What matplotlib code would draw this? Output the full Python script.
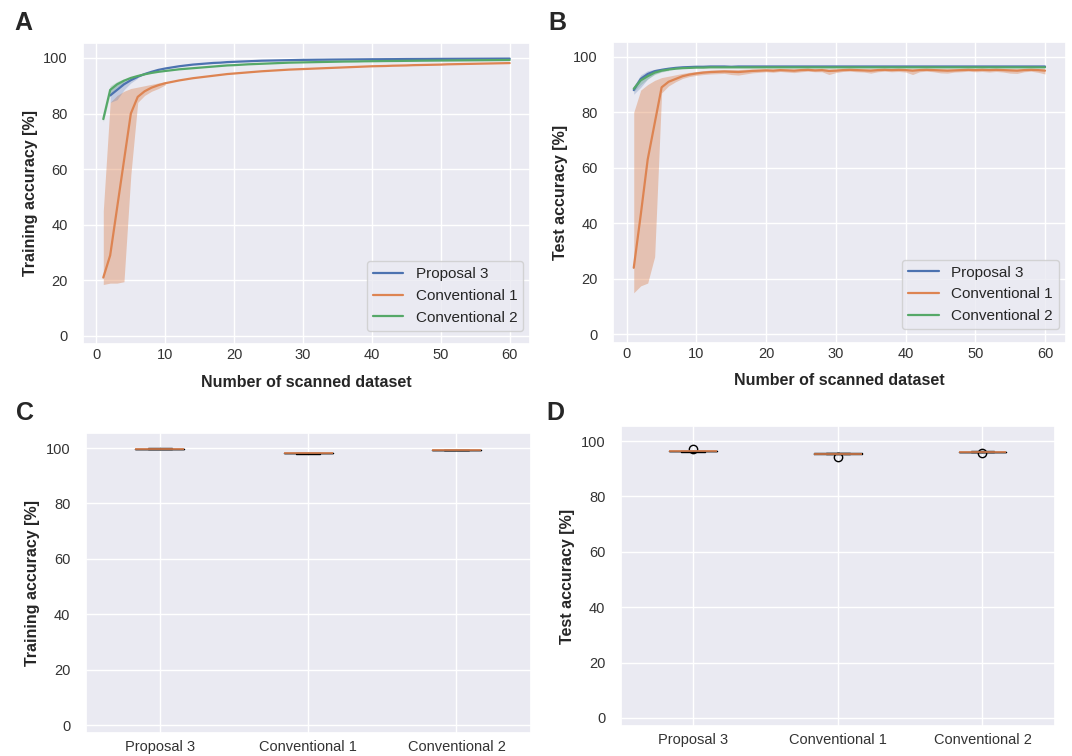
import matplotlib
matplotlib.use("Agg")
import matplotlib.pyplot as plt
import seaborn as sns

sns.set_theme(style="darkgrid")
plt.rcParams['font.family'] = ['Liberation Sans', 'DejaVu Sans']

# x axis: number of scanned dataset
x_all = list(range(1, 61))
x_from2 = list(range(2, 61))

# training accuracy (mean curves)
train_p3 = [86.5, 88.5, 90.5, 92.0, 93.2, 94.2, 95.0, 95.7, 96.2, 96.6,
            97.0, 97.3, 97.6, 97.8, 98.0, 98.2, 98.3, 98.5, 98.6, 98.7,
            98.8, 98.9, 99.0, 99.05, 99.1, 99.15, 99.2, 99.25, 99.3, 99.32,
            99.35, 99.37, 99.4, 99.42, 99.44, 99.46, 99.48, 99.5, 99.52, 99.53,
            99.55, 99.56, 99.58, 99.6, 99.61, 99.62, 99.63, 99.65, 99.66, 99.67,
            99.68, 99.69, 99.7, 99.71, 99.72, 99.73, 99.74, 99.75, 99.76]
train_c1 = [21.0, 29.0, 46.0, 63.0, 80.0, 86.0, 88.0, 89.3, 90.2, 90.9,
            91.4, 91.9, 92.3, 92.7, 93.0, 93.3, 93.6, 93.9, 94.2, 94.4,
            94.6, 94.8, 95.0, 95.2, 95.35, 95.5, 95.65, 95.8, 95.9, 96.0,
            96.1, 96.2, 96.3, 96.4, 96.5, 96.6, 96.7, 96.8, 96.9, 97.0,
            97.05, 97.1, 97.2, 97.25, 97.3, 97.4, 97.45, 97.5, 97.55, 97.6,
            97.7, 97.75, 97.8, 97.85, 97.9, 97.95, 98.0, 98.05, 98.1, 98.15]
train_c2 = [78.0, 88.5, 90.5, 91.8, 92.8, 93.5, 94.1, 94.6, 95.0, 95.3,
            95.6, 95.9, 96.1, 96.3, 96.5, 96.7, 96.9, 97.1, 97.3, 97.4,
            97.55, 97.7, 97.8, 97.9, 98.0, 98.1, 98.2, 98.3, 98.35, 98.4,
            98.45, 98.5, 98.55, 98.6, 98.65, 98.7, 98.72, 98.75, 98.8, 98.82,
            98.85, 98.88, 98.9, 98.92, 98.95, 98.97, 99.0, 99.02, 99.04, 99.06,
            99.08, 99.1, 99.12, 99.14, 99.16, 99.18, 99.2, 99.22, 99.24, 99.26]

# training spread bands (only the early, visible part)
band_x_c1 = [1, 2, 3, 4, 5, 6, 7, 8, 9, 10]
train_c1_lo = [18.5, 19.0, 19.0, 19.5, 58.0, 84.0, 86.5, 88.0, 89.0, 90.3]
train_c1_hi = [45.0, 84.0, 86.5, 88.0, 89.0, 89.5, 90.0, 90.5, 91.0, 91.5]
band_x_p3 = [2, 3, 4, 5, 6]
train_p3_lo = [84.0, 85.0, 88.5, 91.0, 92.7]
train_p3_hi = [88.5, 90.5, 91.8, 92.8, 93.6]
band_x_c2 = [1, 2, 3, 4]
train_c2_lo = [77.0, 87.0, 89.5, 91.0]
train_c2_hi = [79.0, 90.0, 91.5, 92.5]

# test accuracy (mean curves)
test_p3 = [88.0, 92.0, 93.8, 94.8, 95.3, 95.7, 96.0, 96.2, 96.3, 96.4,
           96.4, 96.5, 96.5, 96.5, 96.4, 96.5, 96.5, 96.5, 96.5, 96.5,
           96.5, 96.5, 96.5, 96.5, 96.5, 96.5, 96.5, 96.5, 96.5, 96.5,
           96.5, 96.5, 96.5, 96.5, 96.5, 96.5, 96.5, 96.5, 96.5, 96.5,
           96.5, 96.5, 96.5, 96.5, 96.5, 96.5, 96.5, 96.5, 96.5, 96.5,
           96.5, 96.5, 96.5, 96.5, 96.5, 96.5, 96.5, 96.5, 96.5, 96.5]
test_c1 = [24.0, 43.0, 63.0, 76.0, 89.0, 91.0, 92.0, 93.0, 93.6, 94.0,
           94.3, 94.5, 94.6, 94.7, 94.6, 94.5, 94.7, 94.9, 95.0, 95.1,
           95.0, 95.2, 95.1, 95.0, 95.2, 95.3, 95.1, 95.2, 94.9, 95.0,
           95.2, 95.3, 95.2, 95.1, 95.0, 95.2, 95.3, 95.2, 95.3, 95.2,
           95.0, 95.2, 95.3, 95.2, 95.1, 95.0, 95.1, 95.2, 95.3, 95.2,
           95.3, 95.2, 95.3, 95.2, 95.1, 95.0, 95.2, 95.3, 95.2, 95.0]
test_c2 = [88.5, 91.5, 93.0, 94.3, 95.0, 95.4, 95.7, 95.9, 96.0, 96.1,
           96.1, 96.2, 96.2, 96.2, 96.2, 96.2, 96.2, 96.2, 96.2, 96.2,
           96.2, 96.2, 96.2, 96.2, 96.2, 96.2, 96.2, 96.2, 96.2, 96.2,
           96.2, 96.2, 96.2, 96.2, 96.2, 96.2, 96.2, 96.2, 96.2, 96.2,
           96.2, 96.2, 96.2, 96.2, 96.2, 96.2, 96.2, 96.2, 96.2, 96.2,
           96.2, 96.2, 96.2, 96.2, 96.2, 96.2, 96.2, 96.2, 96.2, 96.2]

# test spread bands
test_c1_lo = [15.0, 17.5, 18.5, 28.0, 87.0, 89.5, 91.0, 92.2, 92.9, 93.3,
              93.6, 93.8, 93.9, 94.0, 93.6, 93.4, 93.8, 94.2, 94.4, 94.6,
              94.4, 94.7, 94.5, 94.3, 94.6, 94.8, 94.6, 94.6, 93.6, 94.3,
              94.7, 94.8, 94.6, 94.5, 94.1, 94.6, 94.8, 94.6, 94.7, 94.5,
              93.6, 94.6, 94.8, 94.6, 94.2, 94.1, 94.5, 94.6, 94.8, 94.6,
              94.7, 94.5, 94.7, 94.5, 94.1, 94.0, 94.6, 94.8, 94.4, 93.8]
test_c1_hi = [80.0, 88.0, 90.0, 91.5, 92.5, 93.0, 93.5, 94.0, 94.4, 94.7,
              95.0, 95.2, 95.3, 95.4, 95.4, 95.4, 95.5, 95.6, 95.6, 95.7,
              95.6, 95.7, 95.7, 95.6, 95.7, 95.8, 95.7, 95.8, 95.6, 95.7,
              95.8, 95.8, 95.8, 95.7, 95.7, 95.8, 95.8, 95.8, 95.8, 95.8,
              95.7, 95.8, 95.8, 95.8, 95.7, 95.7, 95.7, 95.8, 95.8, 95.8,
              95.8, 95.8, 95.8, 95.8, 95.7, 95.7, 95.8, 95.8, 95.8, 95.7]
band_x_test = [1, 2, 3, 4, 5, 6]
test_p3_lo = [86.5, 89.0, 92.0, 93.8, 94.7, 95.3]
test_p3_hi = [89.5, 93.5, 95.0, 95.5, 95.8, 96.0]
test_c2_lo = [87.5, 90.0, 92.0, 93.6, 94.5, 95.0]
test_c2_hi = [89.5, 93.0, 94.2, 95.0, 95.5, 95.8]

# final accuracies for the box plots
categories = ['Proposal 3', 'Conventional 1', 'Conventional 2']
final_train = [[99.7, 99.75, 99.8, 99.8, 99.85],
               [98.0, 98.1, 98.15, 98.2, 98.3],
               [99.2, 99.25, 99.3, 99.3, 99.35]]
final_test = [[96.2, 96.3, 96.35, 96.4, 96.5, 97.0],
              [95.3, 95.45, 95.5, 95.6, 95.75, 94.3],
              [96.0, 96.1, 96.15, 96.2, 96.35, 95.6]]

blue, orange, green = '#4C72B0', '#DD8452', '#55A868'

fig = plt.figure(figsize=(10.72, 7.56), dpi=100)
ax_a = fig.add_axes([0.0774, 0.5446, 0.417, 0.399])
ax_b = fig.add_axes([0.572, 0.5466, 0.422, 0.3985])
ax_c = fig.add_axes([0.080, 0.030, 0.415, 0.3975])
ax_d = fig.add_axes([0.579, 0.0393, 0.405, 0.3975])

# ---- A: training curves
ax_a.fill_between(band_x_c1, train_c1_lo, train_c1_hi, color=orange, alpha=0.4, lw=0)
ax_a.fill_between(band_x_p3, train_p3_lo, train_p3_hi, color=blue, alpha=0.25, lw=0)
ax_a.fill_between(band_x_c2, train_c2_lo, train_c2_hi, color=green, alpha=0.25, lw=0)
ax_a.plot(x_from2, train_p3, color=blue, lw=1.6, label='Proposal 3')
ax_a.plot(x_all, train_c1, color=orange, lw=1.6, label='Conventional 1')
ax_a.plot(x_all, train_c2, color=green, lw=1.6, label='Conventional 2')
ax_a.set_ylabel('Training accuracy [%]', fontweight='bold', fontsize=11.5)

# ---- B: test curves
ax_b.fill_between(x_all, test_c1_lo, test_c1_hi, color=orange, alpha=0.4, lw=0)
ax_b.fill_between(band_x_test, test_p3_lo, test_p3_hi, color=blue, alpha=0.25, lw=0)
ax_b.fill_between(band_x_test, test_c2_lo, test_c2_hi, color=green, alpha=0.25, lw=0)
ax_b.plot(x_all, test_p3, color=blue, lw=1.6, label='Proposal 3')
ax_b.plot(x_all, test_c1, color=orange, lw=1.6, label='Conventional 1')
ax_b.plot(x_all, test_c2, color=green, lw=1.6, label='Conventional 2')
ax_b.set_ylabel('Test accuracy [%]', fontweight='bold', fontsize=11.5)

for ax in (ax_a, ax_b):
    ax.set_xlim(-1.95, 62.95)
    ax.set_ylim(-3, 105.5)
    ax.set_xticks([0, 10, 20, 30, 40, 50, 60])
    ax.set_yticks([0, 20, 40, 60, 80, 100])
    ax.set_xlabel('Number of scanned dataset', fontweight='bold', fontsize=11.5,
                  labelpad=9)
    ax.tick_params(labelsize=10.5, colors='#333333', length=0)
    ax.tick_params(axis='x', pad=3)
    ax.tick_params(axis='y', pad=11)
    ax.legend(loc='lower right', bbox_to_anchor=(0.985, 0.045), borderaxespad=0,
              fontsize=11, framealpha=0.8)

# ---- C, D: box plots of final accuracies
for ax, data, ylab in ((ax_c, final_train, 'Training accuracy [%]'),
                       (ax_d, final_test, 'Test accuracy [%]')):
    ax.boxplot(data, widths=0.33, whis=1.5,
               medianprops=dict(color=orange, lw=1.2),
               flierprops=dict(marker='o', markerfacecolor='none',
                               markeredgecolor='black', markersize=6))
    ax.set_xticks([1, 2, 3])
    ax.set_xticklabels(categories)
    ax.set_xlim(0.5, 3.5)
    ax.set_ylim(-3, 105.5)
    ax.set_yticks([0, 20, 40, 60, 80, 100])
    ax.set_ylabel(ylab, fontweight='bold', fontsize=11.5)
    ax.tick_params(labelsize=10.5, colors='#333333', length=0)
    ax.tick_params(axis='x', pad=5)
    ax.tick_params(axis='y', pad=11)

# panel letters
for xp, yp, letter in ((0.013, 0.985, 'A'), (0.512, 0.985, 'B'),
                       (0.015, 0.470, 'C'), (0.510, 0.470, 'D')):
    fig.text(xp, yp, letter, fontsize=18, fontweight='bold', va='top')

fig.savefig('out.png', dpi=100)
plt.close(fig)
